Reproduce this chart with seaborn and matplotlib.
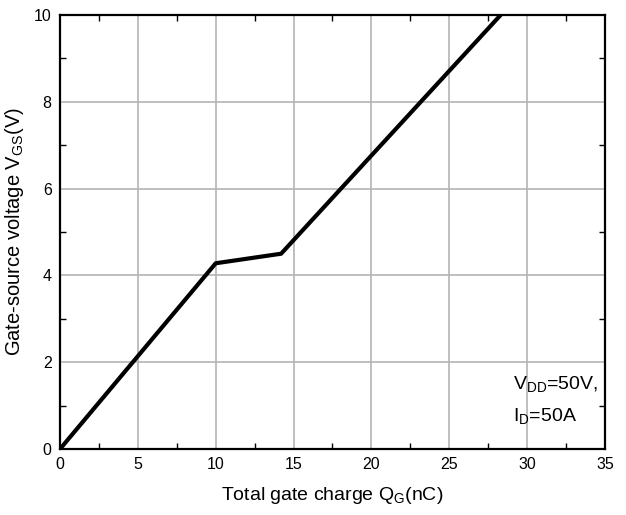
import matplotlib
matplotlib.use("Agg")
import matplotlib.pyplot as plt
import seaborn as sns
import pandas as pd
from matplotlib.ticker import MultipleLocator

qg_nc = [0.0, 10.0, 14.2, 28.3]
vgs_v = [0.0, 4.28, 4.5, 10.0]
x_ticks = [0, 5, 10, 15, 20, 25, 30, 35]
y_ticks = [0, 2, 4, 6, 8, 10]

sns.set_theme(style="white")
plt.rcParams['font.family'] = ['Liberation Sans', 'DejaVu Sans']
plt.rcParams['mathtext.fontset'] = 'custom'
plt.rcParams['mathtext.rm'] = 'Liberation Sans'
plt.rcParams['mathtext.it'] = 'Liberation Sans:italic'
plt.rcParams['text.color'] = 'black'
plt.rcParams['axes.labelcolor'] = 'black'

fig = plt.figure(figsize=(6.26, 5.15), dpi=100)
ax = fig.add_axes([0.0958, 0.128, 0.8707, 0.843])

df = pd.DataFrame({"qg": qg_nc, "vgs": vgs_v})
sns.lineplot(data=df, x="qg", y="vgs", sort=False, color="black", lw=3, ax=ax)

ax.set_xlim(0, 35)
ax.set_ylim(0, 10)
ax.set_xticks(x_ticks)
ax.set_yticks(y_ticks)
ax.xaxis.set_minor_locator(MultipleLocator(2.5))
ax.yaxis.set_minor_locator(MultipleLocator(1))
ax.grid(True, which="major", color="#b4b4b4", lw=1.2)
ax.set_axisbelow(True)
ax.tick_params(which="both", direction="in", top=True, right=True, bottom=True, left=True,
               colors="black", labelsize=11.5)
ax.tick_params(which="major", length=0, pad=6)
ax.tick_params(which="minor", length=4, width=1)
for s in ax.spines.values():
    s.set_color("black")
    s.set_linewidth(1.6)

ax.set_xlabel(r"Total gate charge Q$_{\mathrm{G}}$(nC)", fontsize=14, labelpad=9)
ax.set_ylabel(r"Gate-source voltage V$_{\mathrm{GS}}$(V)", fontsize=14.5, labelpad=6)

ax.text(0.831, 0.150, r"V$_{\mathrm{DD}}$=50V,", transform=ax.transAxes, fontsize=14, ha="left", va="center")
ax.text(0.831, 0.076, r"I$_{\mathrm{D}}$=50A", transform=ax.transAxes, fontsize=14, ha="left", va="center")

fig.savefig("out.png", dpi=100)
